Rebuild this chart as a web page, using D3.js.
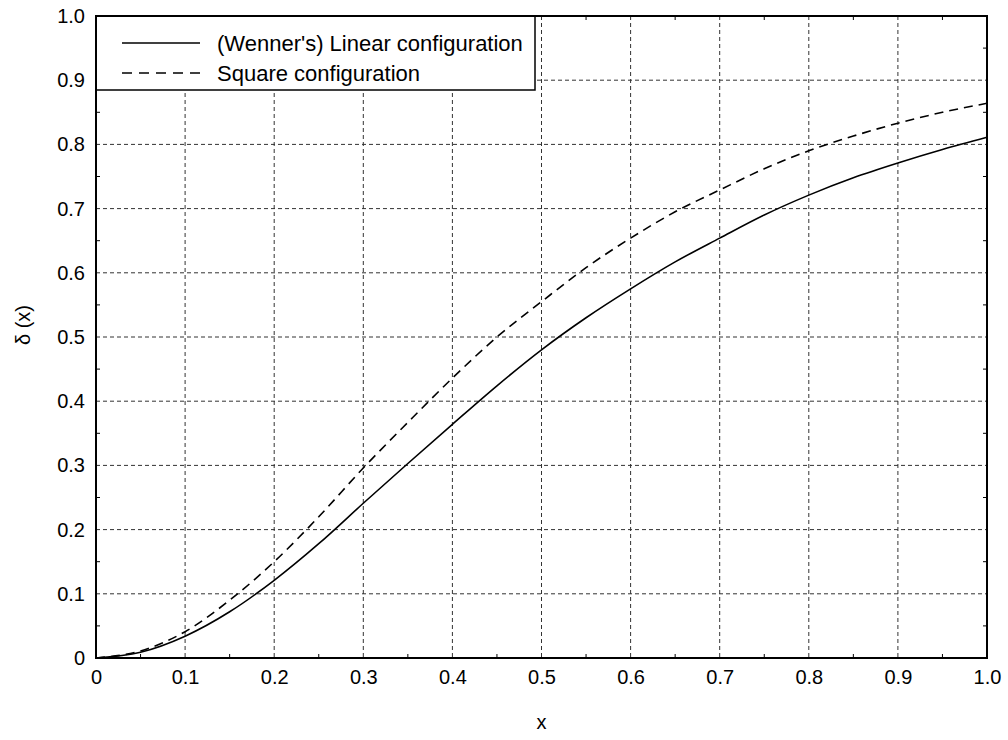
<!DOCTYPE html>
<html>
<head>
<meta charset="utf-8">
<script src="https://cdn.jsdelivr.net/npm/d3@7"></script>
<style>
body{margin:0;background:#fff}
text{font-family:"Liberation Sans",Arial,sans-serif}
</style>
</head>
<body>
<script>
const xs=[0,0.05,0.1,0.15,0.2,0.25,0.3,0.35,0.4,0.45,0.5,0.55,0.6,0.65,0.7,0.75,0.8,0.85,0.9,0.95,1.0]
const linear=[0,0.009,0.034,0.072,0.121,0.178,0.241,0.303,0.364,0.424,0.48,0.53,0.575,0.617,0.654,0.69,0.721,0.748,0.771,0.792,0.811]
const square=[0,0.011,0.041,0.09,0.15,0.22,0.296,0.367,0.436,0.5,0.555,0.608,0.654,0.695,0.729,0.762,0.79,0.813,0.833,0.85,0.864]
const ticks=[0,0.1,0.2,0.3,0.4,0.5,0.6,0.7,0.8,0.9,1.0]
const legendLabels=["(Wenner's) Linear configuration","Square configuration"]

const margin={top:16,right:21,bottom:82,left:96}
const width=1008-margin.left-margin.right,
  height=740-margin.top-margin.bottom

let svg=d3.select('body').append('svg')
	.attr('width',1008)
	.attr('height',740)
	.append('g')
	.attr('transform','translate('+margin.left+','+margin.top+')')

let xScale=d3.scaleLinear().domain([0,1]).range([0,width])
let yScale=d3.scaleLinear().domain([0,1]).range([height,0])

const fmt=d=>d===0?'0':d.toFixed(1)

// grid
svg.append('g').selectAll('line')
	.data(ticks.slice(1,-1))
	.join('line')
	.attr('x1',d=>xScale(d)).attr('x2',d=>xScale(d))
	.attr('y1',0).attr('y2',height)
	.attr('stroke','#333').attr('stroke-width',1).attr('stroke-dasharray','4,3')
svg.append('g').selectAll('line')
	.data(ticks.slice(1,-1))
	.join('line')
	.attr('y1',d=>yScale(d)).attr('y2',d=>yScale(d))
	.attr('x1',0).attr('x2',width)
	.attr('stroke','#333').attr('stroke-width',1).attr('stroke-dasharray','4,3')

// minor ticks inside, all four sides
const minor=d3.range(0.05,1,0.1)
const tk=4
svg.append('g').selectAll('line')
	.data(minor).join('line')
	.attr('x1',d=>xScale(d)).attr('x2',d=>xScale(d))
	.attr('y1',height).attr('y2',height-tk)
	.attr('stroke','#000')
svg.append('g').selectAll('line')
	.data(minor).join('line')
	.attr('x1',d=>xScale(d)).attr('x2',d=>xScale(d))
	.attr('y1',0).attr('y2',tk)
	.attr('stroke','#000')
svg.append('g').selectAll('line')
	.data(minor).join('line')
	.attr('y1',d=>yScale(d)).attr('y2',d=>yScale(d))
	.attr('x1',0).attr('x2',tk)
	.attr('stroke','#000')
svg.append('g').selectAll('line')
	.data(minor).join('line')
	.attr('y1',d=>yScale(d)).attr('y2',d=>yScale(d))
	.attr('x1',width).attr('x2',width-tk)
	.attr('stroke','#000')

// curves
const pts=s=>xs.map((x,i)=>[x,s[i]])
const line=d3.line()
	.x(d=>xScale(d[0]))
	.y(d=>yScale(d[1]))
	.curve(d3.curveMonotoneX)

svg.append('path')
	.datum(pts(linear))
	.attr('fill','none').attr('stroke','#000').attr('stroke-width',1.6)
	.attr('d',line)
svg.append('path')
	.datum(pts(square))
	.attr('fill','none').attr('stroke','#000').attr('stroke-width',1.6)
	.attr('stroke-dasharray','9,6')
	.attr('d',line)

// axes
let xAxis=d3.axisBottom(xScale).tickValues(ticks).tickFormat(fmt).tickSize(0).tickPadding(12)
let yAxis=d3.axisLeft(yScale).tickValues(ticks).tickFormat(fmt).tickSize(0).tickPadding(11)

svg.append('g')
	.attr('transform',`translate(0,${height})`)
	.call(xAxis)
	.call(g=>g.select('.domain').remove())
	.selectAll('text').attr('font-size',20).attr('fill','#000')
	.attr('font-family','"Liberation Sans",Arial,sans-serif')
svg.append('g')
	.call(yAxis)
	.call(g=>g.select('.domain').remove())
	.selectAll('text').attr('font-size',20).attr('fill','#000')
	.attr('font-family','"Liberation Sans",Arial,sans-serif')

// legend
const lg=svg.append('g')
lg.append('rect')
	.attr('x',0).attr('y',0).attr('width',439).attr('height',74)
	.attr('fill','#fff').attr('stroke','#000').attr('stroke-width',1.5)
legendLabels.forEach((t,i)=>{
	const y=27+i*30
	lg.append('line')
		.attr('x1',26).attr('x2',104).attr('y1',y).attr('y2',y)
		.attr('stroke','#000').attr('stroke-width',1.3)
		.attr('stroke-dasharray',i?'10,7':null)
	lg.append('text')
		.attr('x',121).attr('y',y+8)
		.attr('font-size',22).text(t)
})

// frame
svg.append('rect')
	.attr('x',0).attr('y',0).attr('width',width).attr('height',height)
	.attr('fill','none').attr('stroke','#000').attr('stroke-width',2)

// axis titles
svg.append('text')
	.attr('x',width/2).attr('y',height+71)
	.attr('text-anchor','middle').attr('font-size',20).text('x')
svg.append('text')
	.attr('transform',`translate(${-66},${height/2-12}) rotate(-90)`)
	.attr('text-anchor','middle').attr('font-size',20).text('δ (x)')
</script>
</body>
</html>
